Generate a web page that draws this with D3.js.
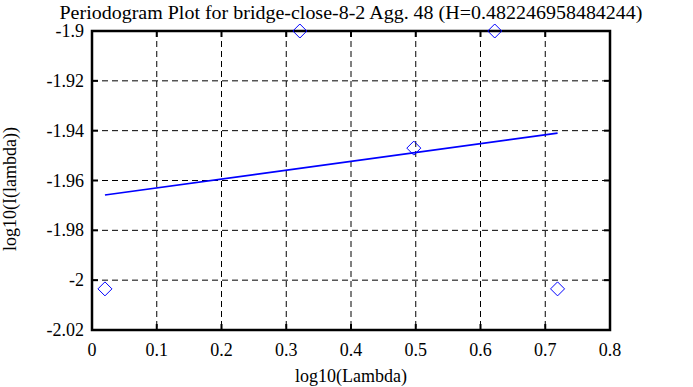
<!DOCTYPE html>
<html>
<head>
<meta charset="utf-8">
<script src="https://cdn.jsdelivr.net/npm/d3@7"></script>
<style>
body{margin:0;background:#fff;}
text{font-family:"Liberation Serif","Times New Roman",serif;}
</style>
</head>
<body>
<svg id="chart" width="693" height="387"></svg>
<script>
// data
var titleText="Periodogram Plot for bridge-close-8-2 Agg. 48 (H=0.482246958484244)";
var pointsX=[0.020,0.321,0.497,0.622,0.719];
var pointsY=[-2.0035,-1.9,-1.947,-1.9,-2.0035];
var fitX=[0.020,0.719];
var fitY=[-1.9658,-1.9410];
var xTicks=[0,0.1,0.2,0.3,0.4,0.5,0.6,0.7,0.8];
var yTicks=[-1.9,-1.92,-1.94,-1.96,-1.98,-2,-2.02];

var svg=d3.select("#chart");
var L=92,R=610,T=31,B=330;
var sx=d3.scaleLinear().domain([0,0.8]).range([L,R]);
var sy=d3.scaleLinear().domain([-2.02,-1.9]).range([B,T]);

//网格
var grid=svg.append("g");
xTicks.forEach(function(t){
    if(t==0||t==0.8) return;
    grid.append("line").attr("x1",sx(t)).attr("x2",sx(t)).attr("y1",T).attr("y2",B)
        .attr("stroke","black").attr("stroke-width",1).attr("stroke-dasharray","6,4");
    grid.append("line").attr("x1",sx(t)).attr("x2",sx(t)).attr("y1",T).attr("y2",T+6)
        .attr("stroke","black").attr("stroke-width",2);
    grid.append("line").attr("x1",sx(t)).attr("x2",sx(t)).attr("y1",B).attr("y2",B-6)
        .attr("stroke","black").attr("stroke-width",2);
});
yTicks.forEach(function(t){
    if(t==-1.9||t==-2.02) return;
    grid.append("line").attr("x1",L).attr("x2",R).attr("y1",sy(t)).attr("y2",sy(t))
        .attr("stroke","black").attr("stroke-width",1).attr("stroke-dasharray","6,4");
    grid.append("line").attr("x1",L).attr("x2",L+6).attr("y1",sy(t)).attr("y2",sy(t))
        .attr("stroke","black").attr("stroke-width",2);
    grid.append("line").attr("x1",R).attr("x2",R-6).attr("y1",sy(t)).attr("y2",sy(t))
        .attr("stroke","black").attr("stroke-width",2);
});

//边框
svg.append("rect").attr("x",L).attr("y",T).attr("width",R-L).attr("height",B-T)
    .attr("fill","none").attr("stroke","black").attr("stroke-width",2.5);

//刻度文字
svg.selectAll(".xl").data(xTicks).enter().append("text")
    .attr("x",function(d){return sx(d);}).attr("y",B+26)
    .attr("text-anchor","middle").attr("font-size",18)
    .text(function(d){return String(d);});
svg.selectAll(".yl").data(yTicks).enter().append("text")
    .attr("x",L-8).attr("y",function(d){return sy(d)+6;})
    .attr("text-anchor","end").attr("font-size",18)
    .text(function(d){return String(d);});

//拟合直线
svg.append("line").attr("x1",sx(fitX[0])).attr("y1",sy(fitY[0]))
    .attr("x2",sx(fitX[1])).attr("y2",sy(fitY[1]))
    .attr("stroke","blue").attr("stroke-width",1.6);

//数据点
svg.selectAll(".pt").data(pointsX).enter().append("path")
    .attr("d",function(d,i){
        var x=sx(d),y=sy(pointsY[i]),r=7;
        return "M"+x+","+(y-r)+"L"+(x+r)+","+y+"L"+x+","+(y+r)+"L"+(x-r)+","+y+"Z";
    })
    .attr("fill","none").attr("stroke","blue").attr("stroke-width",1);

//标题
svg.append("text").attr("x",351).attr("y",19).attr("text-anchor","middle")
    .attr("font-size",18).attr("textLength",583).attr("lengthAdjust","spacingAndGlyphs").text(titleText);
svg.append("text").attr("x",351).attr("y",382).attr("text-anchor","middle")
    .attr("font-size",18).text("log10(Lambda)");
svg.append("text").attr("transform","translate(16,189) rotate(-90)")
    .attr("text-anchor","middle").attr("font-size",18).text("log10(I(lambda))");
</script>
</body>
</html>
